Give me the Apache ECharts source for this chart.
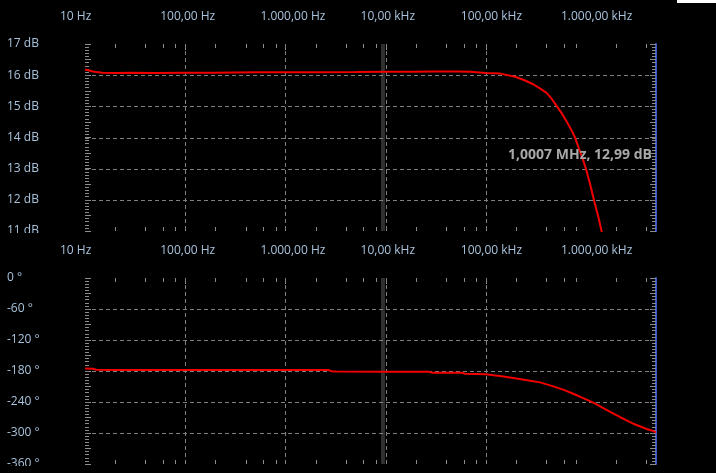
<!DOCTYPE html>
<html><head><meta charset="utf-8">
<script src="https://cdn.jsdelivr.net/npm/echarts@6/dist/echarts.min.js"></script>
<style>html,body{margin:0;padding:0;background:#000}#c{width:716px;height:473px}</style>
</head><body><div id="c"></div>
<script>
// ---- data ----
const freqTicks = [10, 100, 1000, 10000, 100000, 1000000];
const freqTickLabels = ['10 Hz', '100,00 Hz', '1.000,00 Hz', '10,00 kHz', '100,00 kHz', '1.000,00 kHz'];
const gridFreqs = [100, 1000, 10000, 100000];
const minorFreqs = [20, 40, 60, 80, 200, 400, 600, 800, 2000, 4000, 6000, 8000,
  20000, 40000, 60000, 80000, 200000, 400000, 600000, 800000, 2000000, 4000000];
const cursorBand = [9000, 9860];
const gainGrid = [12, 13, 14, 15, 16];
const phaseGrid = [-300, -240, -180, -120, -60];

const gainFreqs = [10, 11, 12, 13, 15, 20, 30, 50, 100, 200, 500, 1000, 2000, 5000, 10000,
  20000, 30000, 50000, 70000, 100000, 140000, 200000, 250000, 300000, 350000, 405000, 460000,
  513000, 580000, 650000, 720000, 780000, 860000, 945000, 1000700, 1100000, 1220000, 1330000, 1430000, 1550000];
const gainDb = [16.18, 16.15, 16.12, 16.10, 16.08, 16.07, 16.08, 16.07, 16.08, 16.08, 16.09, 16.09, 16.09, 16.10, 16.11,
  16.11, 16.12, 16.12, 16.11, 16.07, 16.05, 15.94, 15.82, 15.70, 15.57, 15.43, 15.22,
  15.00, 14.75, 14.48, 14.22, 13.99, 13.60, 13.24, 12.99, 12.50, 11.91, 11.45, 11.00, 10.40];

const phaseFreqs = [10, 12, 13, 20, 100, 1000, 2700, 2900, 3200, 10000, 27000, 29000, 58000, 62000,
  100000, 120000, 150000, 188000, 250000, 348000, 472000, 600000, 747000, 1016000, 1250000, 1490000,
  1800000, 2180000, 2600000, 2970000, 3500000, 4040000, 4500000, 5000000];
const phaseDeg = [-175.3, -175.5, -177.5, -178.0, -178.2, -178.3, -178.3, -180.5, -181.2, -181.4, -181.4, -183.2, -183.4, -185.2,
  -186.5, -188.4, -190.5, -193.6, -197.5, -202.0, -209.8, -216.5, -224.0, -235.5, -243.5, -251.7,
  -260.5, -269.0, -276.5, -282.0, -287.5, -292.3, -295.0, -298.5];

const markerText = '1,0007 MHz, 12,99 dB';
const markerPoint = [1000700, 12.99];

// ---- styles ----
const labelColor = '#a9c3dd';
const fontFamily = '"Open Sans", "Noto Sans", sans-serif';
const tickColor = '#8c8c8c';
const gridColor = '#808080';

function freqLabel(v) {
  for (let i = 0; i < freqTicks.length; i++) {
    if (Math.abs(v - freqTicks[i]) / freqTicks[i] < 1e-6) return '{t|' + freqTickLabels[i] + '}';
  }
  return '';
}

function renderMarks(params, api) {
  const cs = params.coordSys;
  const kind = api.value(2);
  const p = api.coord([api.value(0), api.value(1)]);
  const top = cs.y, bot = cs.y + cs.height;
  if (kind === 2) {
    const y = Math.round(p[1]) + 0.5;
    return {type: 'line', shape: {x1: cs.x, y1: y, x2: cs.x + cs.width, y2: y},
      style: {stroke: gridColor, lineWidth: 1, lineDash: [4, 3]}};
  }
  const x = Math.round(p[0]) + 0.5;
  const children = [
    {type: 'line', shape: {x1: x, y1: top, x2: x, y2: top + 4}, style: {stroke: tickColor, lineWidth: 1}},
    {type: 'line', shape: {x1: x, y1: bot - 4, x2: x, y2: bot}, style: {stroke: tickColor, lineWidth: 1}}
  ];
  if (kind === 1) {
    children.push({type: 'line', shape: {x1: x, y1: top, x2: x, y2: top + 6}, style: {stroke: tickColor, lineWidth: 1}});
    children.push({type: 'line', shape: {x1: x, y1: top, x2: x, y2: bot},
      style: {stroke: gridColor, lineWidth: 1, lineDash: [4, 3]}});
  }
  return {type: 'group', children};
}

function marksData(yRef, hGrid) {
  const d = [];
  minorFreqs.forEach(f => d.push([f, yRef, 0]));
  gridFreqs.forEach(f => d.push([f, yRef, 1]));
  hGrid.forEach(v => d.push([10, v, 2]));
  return d;
}

function xAxisCfg(gi) {
  return {
    gridIndex: gi, type: 'log', logBase: 10, min: 10, max: 5e6, position: 'top',
    axisLine: {show: false}, axisTick: {show: false}, splitLine: {show: false}, minorTick: {show: false},
    axisLabel: {
      margin: 21, formatter: freqLabel,
      rich: {t: {width: 50, align: 'left', color: labelColor, fontFamily, fontSize: 12}}
    }
  };
}

function yLeft(gi, min, max, interval, fmt) {
  return {
    gridIndex: gi, type: 'value', min, max, interval, position: 'left',
    axisLine: {show: false},
    axisTick: {show: true, inside: true, length: 6, lineStyle: {color: tickColor}},
    minorTick: {show: true, splitNumber: 5, length: 4, lineStyle: {color: tickColor}},
    splitLine: {show: false},
    axisLabel: {margin: 78, align: 'left', color: labelColor, fontFamily, fontSize: 12, formatter: fmt}
  };
}
function yRight(gi, min, max, interval) {
  return {
    gridIndex: gi, type: 'value', min, max, interval, position: 'right',
    axisLine: {show: true, lineStyle: {color: '#3a56c8', width: 2}},
    axisTick: {show: true, inside: true, length: 6, lineStyle: {color: tickColor}},
    minorTick: {show: true, splitNumber: 5, length: 4, lineStyle: {color: tickColor}},
    splitLine: {show: false}, axisLabel: {show: false}
  };
}

const isInt = v => Math.abs(v - Math.round(v)) < 1e-6;

const chart = echarts.init(document.getElementById('c'), null, {renderer: 'canvas'});
chart.setOption({
  backgroundColor: '#000',
  animation: false,
  grid: [
    {left: 85, top: 44, width: 571, height: 187},
    {left: 85, top: 278, width: 571, height: 186}
  ],
  xAxis: [xAxisCfg(0), xAxisCfg(1)],
  yAxis: [
    yLeft(0, 11, 17, 0.5, v => isInt(v) ? Math.round(v) + ' dB' : ''),
    yRight(0, 11, 17, 0.5),
    yLeft(1, -360, 0, 30, v => (Math.round(v) % 60 === 0) ? Math.round(v) + ' °' : ''),
    yRight(1, -360, 0, 30)
  ],
  series: [
    {type: 'custom', xAxisIndex: 0, yAxisIndex: 0, z: 2, silent: true, clip: false,
      renderItem: renderMarks, data: marksData(14, gainGrid)},
    {type: 'line', xAxisIndex: 0, yAxisIndex: 0, z: 3, symbol: 'none', silent: true,
      lineStyle: {color: '#f20000', width: 2}, itemStyle: {color: '#f20000'},
      data: gainFreqs.map((f, i) => [f, gainDb[i]]),
      markArea: {silent: true, itemStyle: {color: '#303030'},
        data: [[{xAxis: cursorBand[0]}, {xAxis: cursorBand[1]}]]},
      markPoint: {silent: true, symbol: 'circle', symbolSize: 1, itemStyle: {color: 'rgba(0,0,0,0)'},
        data: [{coord: markerPoint,
          label: {show: true, formatter: markerText, position: [66.5, -13], align: 'right', verticalAlign: 'middle',
            color: '#a8a8a8', fontFamily, fontSize: 14, fontWeight: 'bold'}}]}
    },
    {type: 'custom', xAxisIndex: 1, yAxisIndex: 2, z: 2, silent: true, clip: false,
      renderItem: renderMarks, data: marksData(-180, phaseGrid)},
    {type: 'line', xAxisIndex: 1, yAxisIndex: 2, z: 3, symbol: 'none', silent: true,
      lineStyle: {color: '#f20000', width: 2}, itemStyle: {color: '#f20000'},
      data: phaseFreqs.map((f, i) => [f, phaseDeg[i]]),
      markArea: {silent: true, itemStyle: {color: '#303030'},
        data: [[{xAxis: cursorBand[0]}, {xAxis: cursorBand[1]}]]}
    }
  ],
  graphic: [
    {type: 'rect', z: 100, shape: {x: 0, y: 233, width: 84, height: 8}, style: {fill: '#000'}},
    {type: 'rect', z: 100, shape: {x: 0, y: 466, width: 84, height: 7}, style: {fill: '#000'}},
    {type: 'rect', z: 100, shape: {x: 677, y: 0, width: 39, height: 3}, style: {fill: '#fff'}}
  ]
});
</script></body></html>
